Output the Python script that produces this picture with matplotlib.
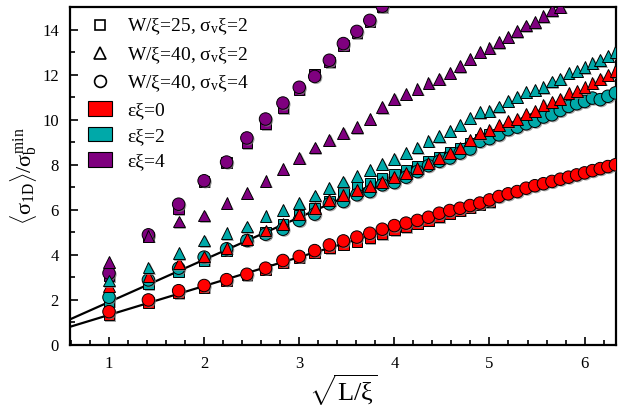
import matplotlib
matplotlib.use("Agg")
import matplotlib.pyplot as plt
import matplotlib.patheffects as pe
from matplotlib.patches import Patch
from matplotlib.lines import Line2D
from matplotlib.ticker import MultipleLocator
import numpy as np

plt.rcParams['font.family'] = ['Liberation Serif', 'DejaVu Serif']
plt.rcParams['mathtext.fontset'] = 'custom'
plt.rcParams['mathtext.rm'] = 'Liberation Serif'
plt.rcParams['mathtext.it'] = 'Liberation Serif'
plt.rcParams['mathtext.bf'] = 'Liberation Serif:bold'

# L/xi = 1, 2, 3, ... ; x axis is sqrt(L/xi)
n_all = np.arange(1, 41)

# eps*xi = 0 (red)
red_sq = [1.33, 1.88, 2.30, 2.55, 2.85, 3.10, 3.35, 3.65, 3.88, 4.10,
          4.30, 4.45, 4.60, 4.75, 4.92, 5.10, 5.24, 5.38, 5.52, 5.68,
          5.83, 5.97, 6.10, 6.22, 6.35]
red_tri = [2.62, 3.07, 3.63, 3.93, 4.30, 4.70, 5.08, 5.38, 5.81, 6.07,
           6.44, 6.67, 6.89, 7.07, 7.25, 7.45, 7.63, 7.85, 8.07, 8.30,
           8.52, 8.74, 9.10, 9.40, 9.56, 9.78, 9.93, 10.04, 10.27, 10.40,
           10.67, 10.79, 10.93, 11.19, 11.26, 11.44, 11.63, 11.81, 12.00, 12.15]
red_circ = [1.48, 2.00, 2.41, 2.64, 2.90, 3.14, 3.41, 3.75, 3.93, 4.19,
            4.44, 4.62, 4.79, 4.96, 5.14, 5.30, 5.41, 5.53, 5.67, 5.85,
            5.97, 6.07, 6.19, 6.30, 6.44, 6.59, 6.71, 6.81, 6.96, 7.07,
            7.16, 7.26, 7.36, 7.45, 7.55, 7.64, 7.74, 7.83, 7.92, 8.00]

# eps*xi = 2 (teal)
teal_sq = [1.93, 2.71, 3.26, 3.75, 4.20, 4.65, 5.00, 5.35, 5.75, 6.05,
           6.40, 6.74, 7.00, 7.19, 7.41, 7.56, 7.78, 7.95, 8.15, 8.35,
           8.55, 8.75, 8.95, 9.15, 9.35]
teal_tri = [2.86, 3.44, 4.07, 4.64, 4.96, 5.26, 5.73, 6.00, 6.30, 6.64,
            6.96, 7.26, 7.51, 7.78, 8.03, 8.27, 8.52, 8.77, 9.07, 9.26,
            9.51, 9.78, 10.07, 10.33, 10.40, 10.59, 10.84, 11.01, 11.23, 11.33,
            11.44, 11.70, 11.82, 12.07, 12.18, 12.33, 12.52, 12.64, 12.84, 12.99]
teal_circ = [2.12, 2.89, 3.41, 3.90, 4.27, 4.64, 4.92, 5.14, 5.53, 5.81,
             6.27, 6.37, 6.67, 6.81, 7.11, 7.21, 7.45, 7.70, 7.96, 8.15,
             8.30, 8.52, 8.70, 9.04, 9.16, 9.33, 9.56, 9.67, 9.82, 9.93,
             10.12, 10.22, 10.41, 10.59, 10.71, 10.81, 10.96, 10.89, 11.04, 11.19]

# eps*xi = 4 (purple)
purp_sq = [3.05, 4.80, 6.03, 7.25, 8.10, 8.96, 9.81, 10.52, 11.33, 12.00,
           12.55, 13.30, 13.85, 14.35, 15.00]
purp_tri = [3.70, 4.85, 5.48, 5.75, 6.30, 6.74, 7.29, 7.81, 8.30, 8.77,
            9.11, 9.41, 9.66, 10.04, 10.55, 10.92, 11.14, 11.36, 11.63, 11.81,
            12.07, 12.37, 12.70, 13.00, 13.19, 13.44, 13.67, 13.92, 14.18, 14.32,
            14.59, 14.86, 15.00]
purp_circ = [3.19, 4.89, 6.25, 7.29, 8.12, 9.19, 10.03, 10.74, 11.44, 11.92,
             12.64, 13.38, 13.92, 14.41, 15.04]

# straight line fits: slope, intercept
fit_slopes = [1.284, 1.878]
fit_icepts = [0.05, 0.03]

c_red = '#ff0000'
c_teal = '#00a9a9'
c_purp = '#7f007f'

series = {
    's': [(red_sq, c_red), (teal_sq, c_teal), (purp_sq, c_purp)],
    'o': [(red_circ, c_red), (teal_circ, c_teal), (purp_circ, c_purp)],
    '^': [(red_tri, c_red), (teal_tri, c_teal), (purp_tri, c_purp)],
}
msizes = {'s': 7.5, 'o': 9.0, '^': 8.5}

shadow = [pe.SimplePatchShadow(offset=(1.0, -1.0), shadow_rgbFace='0.5', alpha=0.7),
          pe.Normal()]

fig = plt.figure(figsize=(6.33, 4.16), dpi=100)
ax = fig.add_axes([0.1106, 0.1707, 0.8625, 0.8123])

xlo, xhi = 0.59, 6.33
xx = np.array([xlo, xhi])
for k, b in zip(fit_slopes, fit_icepts):
    ax.plot(xx, k * xx + b, color='black', lw=1.6, zorder=2)

for mk in ['s', 'o', '^']:
    for vals, col in series[mk]:
        x = np.sqrt(n_all[:len(vals)])
        ax.plot(x, vals, linestyle='none', marker=mk, ms=msizes[mk],
                mfc=col, mec='black', mew=0.7, zorder=3, path_effects=shadow)

ax.set_xlim(xlo, xhi)
ax.set_ylim(0, 15)
ax.xaxis.set_major_locator(MultipleLocator(1))
ax.xaxis.set_minor_locator(MultipleLocator(0.2))
ax.yaxis.set_major_locator(MultipleLocator(2))
ax.yaxis.set_minor_locator(MultipleLocator(1))
ax.tick_params(which='both', direction='in', top=False, right=False,
               width=1.2, labelsize=12, pad=8)
ax.tick_params(which='major', length=6)
ax.tick_params(which='minor', length=3.5)
for sp in ax.spines.values():
    sp.set_linewidth(1.6)

ax.set_xlabel(r'$\sqrt{\mathrm{L}/\xi}$', fontsize=19, labelpad=0)
ax.set_ylabel(r'$\langle\sigma_{\mathrm{1D}}\rangle/\sigma_{\mathrm{b}}^{\mathrm{min}}$',
              fontsize=16, labelpad=2)

handles = [
    Line2D([], [], ls='none', marker='s', ms=7.5, mfc='white', mec='black', mew=1.2),
    Line2D([], [], ls='none', marker='^', ms=8.5, mfc='white', mec='black', mew=1.2),
    Line2D([], [], ls='none', marker='o', ms=8.5, mfc='white', mec='black', mew=1.2),
    Patch(facecolor=c_red, edgecolor='black', lw=0.8),
    Patch(facecolor=c_teal, edgecolor='black', lw=0.8),
    Patch(facecolor=c_purp, edgecolor='black', lw=0.8),
]
labels = [
    r'W/ξ=25, σ$_\mathrm{v}$ξ=2',
    r'W/ξ=40, σ$_\mathrm{v}$ξ=2',
    r'W/ξ=40, σ$_\mathrm{v}$ξ=4',
    'εξ=0',
    'εξ=2',
    'εξ=4',
]
ax.legend(handles, labels, loc='upper left', frameon=False, fontsize=14,
          handlelength=1.25, handleheight=0.8, handletextpad=0.75,
          labelspacing=0.38, borderaxespad=0.1, bbox_to_anchor=(0.015, 1.0))

fig.savefig('out.png', dpi=100)
